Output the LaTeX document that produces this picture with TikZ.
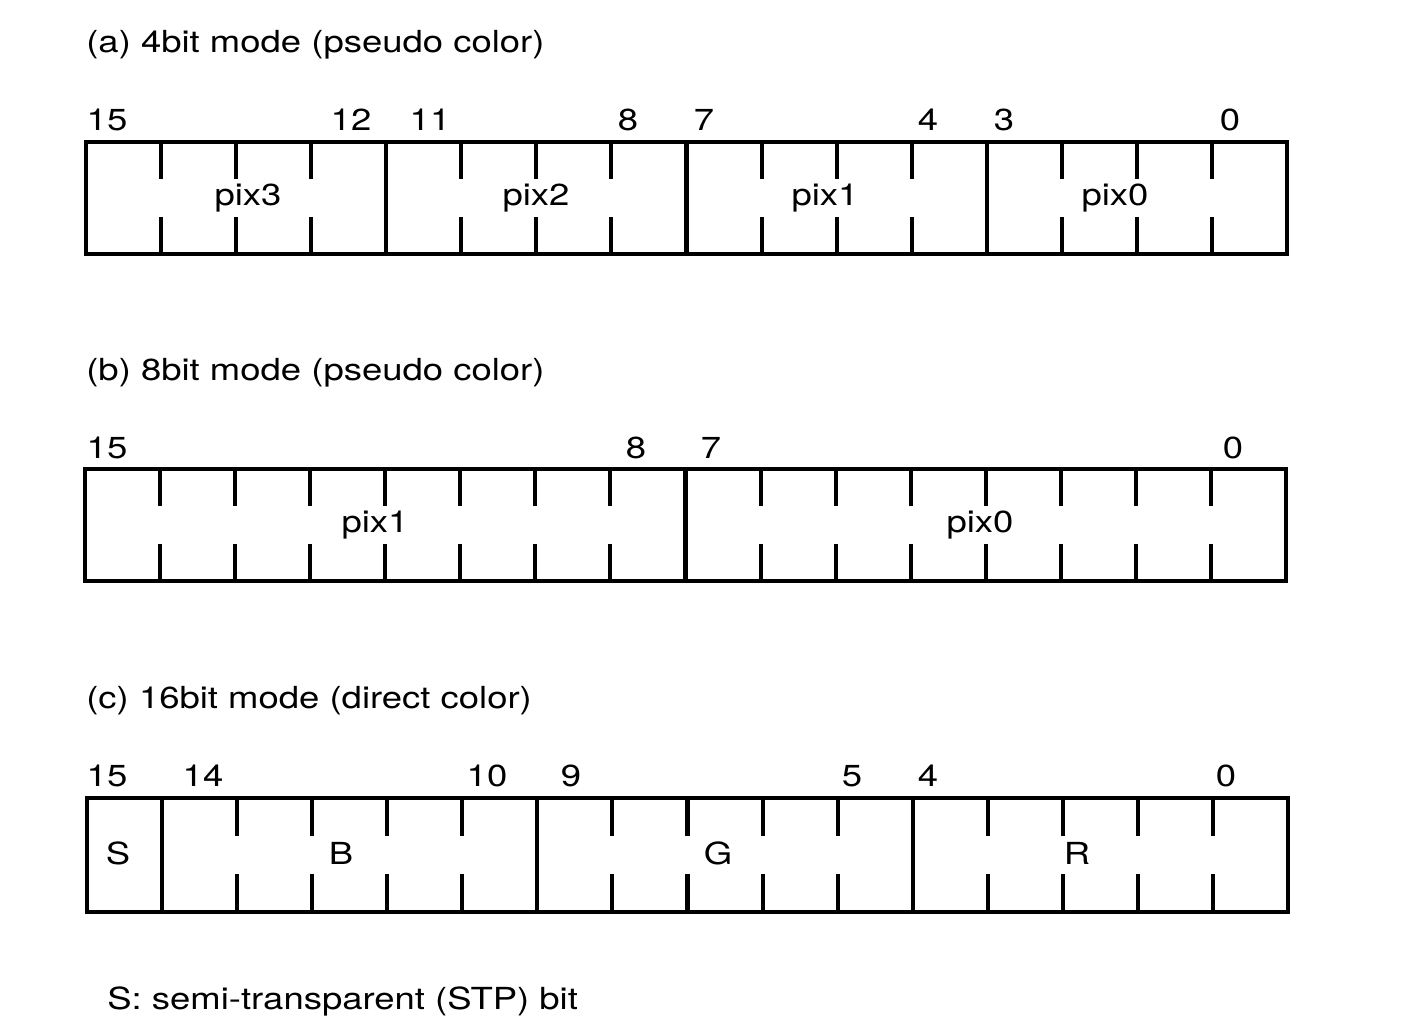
\documentclass[tikz,border=0pt]{standalone}
\usepackage{fontspec}
\setmainfont{TeX Gyre Heros}[FakeStretch=1.2]
\usepackage{tikz}
\usetikzlibrary{positioning}
\tikzstyle{field} = [draw, line width=2.3pt]
\tikzstyle{tick} = [line width=2.3pt]
\tikzstyle{bitno} = [font=\fontsize{17.3}{20}\selectfont, inner sep=0pt]
\tikzstyle{label} = [font=\fontsize{17.3}{20}\selectfont, inner sep=0pt]
\tikzstyle{title} = [font=\fontsize{17.3}{20}\selectfont, inner sep=0pt, anchor=west]

\begin{document}
\begin{tikzpicture}[x=0.02cm, y=-0.02cm]
\useasboundingbox (0,0) rectangle (1420,1023);

% (a) 4bit mode
\node (titleA) [title] at (86,45) {(a) 4bit mode (pseudo color)};
\begin{scope}[shift={(86,142)}]
\draw [field] (0,0) rectangle (1201,112);
\foreach \k in {1,2,3,5,6,7,9,10,11,13,14,15} {
  \draw [tick] (\k*75.06,0) -- (\k*75.06,37);
  \draw [tick] (\k*75.06,75) -- (\k*75.06,112);
}
\foreach \k in {4,8,12}
  \draw [tick] (\k*75.06,0) -- (\k*75.06,112);
\end{scope}
\node (a15) [bitno] at (107,120) {15};
\node (a12) [bitno] at (351,120) {12};
\node (a11) [bitno] at (430,120) {11};
\node (a8) [bitno] at (628,120) {8};
\node (a7) [bitno] at (704,120) {7};
\node (a4) [bitno] at (928,120) {4};
\node (a3) [bitno] at (1004,120) {3};
\node (a0) [bitno] at (1230,120) {0};
\node (pixA3) [label] at (248,198) {pix3};
\node (pixA2) [label] at (536,198) {pix2};
\node (pixA1) [label] at (825,198) {pix1};
\node (pixA0) [label] at (1115,198) {pix0};

% (b) 8bit mode
\node (titleB) [title] at (86,373) {(b) 8bit mode (pseudo color)};
\begin{scope}[shift={(85,469)}]
\draw [field] (0,0) rectangle (1201,112);
\foreach \k in {1,...,7,9,10,...,15} {
  \draw [tick] (\k*75.06,0) -- (\k*75.06,37);
  \draw [tick] (\k*75.06,75) -- (\k*75.06,112);
}
\draw [tick] (8*75.06,0) -- (8*75.06,112);
\end{scope}
\node (b15) [bitno] at (107,448) {15};
\node (b8) [bitno] at (636,448) {8};
\node (b7) [bitno] at (711,448) {7};
\node (b0) [bitno] at (1233,448) {0};
\node (pixB1) [label] at (375,525) {pix1};
\node (pixB0) [label] at (980,525) {pix0};

% (c) 16bit mode
\node (titleC) [title] at (86,701) {(c) 16bit mode (direct color)};
\begin{scope}[shift={(87,798)}]
\draw [field] (0,0) rectangle (1201,114);
\foreach \k in {2,3,4,5,7,8,9,10,12,13,14,15} {
  \draw [tick] (\k*75.06,0) -- (\k*75.06,38);
  \draw [tick] (\k*75.06,76) -- (\k*75.06,114);
}
\foreach \k in {1,6,11}
  \draw [tick] (\k*75.06,0) -- (\k*75.06,114);
\end{scope}
\node (c15) [bitno] at (107,776) {15};
\node (c14) [bitno] at (203,776) {14};
\node (c10) [bitno] at (487,776) {10};
\node (c9) [bitno] at (571,776) {9};
\node (c5) [bitno] at (852,776) {5};
\node (c4) [bitno] at (928,776) {4};
\node (c0) [bitno] at (1226,776) {0};
\node (stp) [label] at (118,853) {S};
\node (blue) [label] at (341,853) {B};
\node (green) [label] at (718,853) {G};
\node (red) [label] at (1077,853) {R};

% footnote
\node (note) [title] at (107,1001) {S: semi-transparent (STP) bit};

\end{tikzpicture}
\end{document}
